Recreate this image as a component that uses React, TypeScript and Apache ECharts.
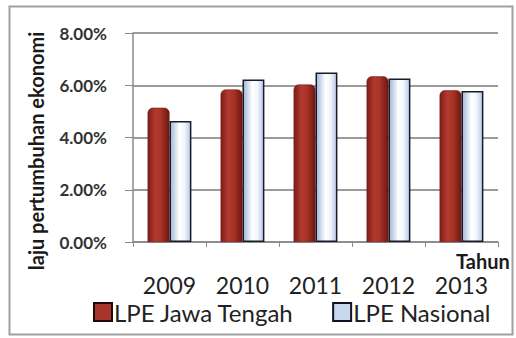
import React, { useEffect, useRef } from "react";
import * as echarts from "echarts";

const categories = ["2009", "2010", "2011", "2012", "2013"];
const jawaTengah = [5.14, 5.84, 6.03, 6.34, 5.81];
const nasional = [4.63, 6.22, 6.49, 6.26, 5.78];
const yTicks = [0, 2, 4, 6, 8];

const FONT = "Lato, 'Open Sans', sans-serif";

export default function App() {
  const ref = useRef<HTMLDivElement>(null);
  useEffect(() => {
    if (!ref.current) return;
    const chart = echarts.init(ref.current, null, { renderer: "svg" });
    const redGrad = new echarts.graphic.LinearGradient(0, 0, 1, 0, [
      { offset: 0, color: "#7e1d16" },
      { offset: 0.35, color: "#b23a2f" },
      { offset: 0.6, color: "#a93328" },
      { offset: 1, color: "#6e1710" },
    ]);
    const blueGrad = new echarts.graphic.LinearGradient(0, 0, 1, 0, [
      { offset: 0, color: "#9fb6d8" },
      { offset: 0.45, color: "#ffffff" },
      { offset: 0.7, color: "#f2f6fc" },
      { offset: 1, color: "#b7c8e2" },
    ]);
    chart.setOption({
      animation: false,
      backgroundColor: "#ffffff",
      textStyle: { fontFamily: FONT },
      grid: { left: 133, right: 18, top: 33, bottom: 96, containLabel: false },
      graphic: [
        {
          type: "rect",
          shape: { x: 9.5, y: 6.5, width: 503, height: 328 },
          style: { fill: "none", stroke: "#a0a0a0", lineWidth: 2 },
          silent: true,
        },
        {
          type: "text",
          x: 36,
          y: 151,
          rotation: Math.PI / 2,
          style: {
            text: "laju pertumbuhan ekonomi",
            fontFamily: FONT,
            fontWeight: "bold",
            fontSize: 20,
            fill: "#1a1a1a",
            textAlign: "center",
            textVerticalAlign: "middle",
          },
        },
        {
          type: "text",
          x: 456,
          y: 251,
          style: {
            text: "Tahun",
            fontFamily: FONT,
            fontWeight: "bold",
            fontSize: 20,
            fill: "#1a1a1a",
          },
        },
      ],
      legend: {
        left: 88,
        top: 295,
        itemWidth: 18,
        itemHeight: 18,
        itemGap: 38,
        icon: "rect",
        textStyle: { fontFamily: FONT, fontSize: 24, color: "#222", padding: [0, 0, 0, -3] },
        data: [
          { name: "LPE Jawa Tengah", itemStyle: { color: "#a8352c", borderColor: "#1a0a08", borderWidth: 2 } },
          { name: "LPE Nasional", itemStyle: { color: "#c9d7ee", borderColor: "#111122", borderWidth: 2 } },
        ],
      },
      xAxis: {
        type: "category",
        data: categories,
        axisLine: { show: true, lineStyle: { color: "#8a8a8a", width: 1.5 } },
        axisTick: { show: true, length: 5, lineStyle: { color: "#8a8a8a" } },
        axisLabel: { fontFamily: FONT, fontSize: 23, color: "#222", margin: 31 },
      },
      yAxis: {
        type: "value",
        min: yTicks[0],
        max: yTicks[yTicks.length - 1],
        interval: 2,
        axisLine: { show: true, lineStyle: { color: "#8a8a8a", width: 1.5 } },
        axisTick: { show: true, length: 8, inside: false, lineStyle: { color: "#8a8a8a" } },
        splitLine: { show: true, lineStyle: { color: "#7a7a7a", width: 1.5 } },
        axisLabel: {
          fontFamily: FONT,
          fontSize: 17,
          fontWeight: "bold",
          color: "#333",
          margin: 26,
          formatter: (v: number) => v.toFixed(2) + "%",
        },
      },
      series: [
        {
          name: "LPE Jawa Tengah",
          type: "bar",
          data: jawaTengah,
          barGap: "0%",
          barCategoryGap: "40%",
          itemStyle: { color: redGrad, borderRadius: [5, 5, 0, 0], borderColor: "#6a1510", borderWidth: 0.5 },
        },
        {
          name: "LPE Nasional",
          type: "bar",
          data: nasional,
          itemStyle: { color: blueGrad, borderColor: "#1a1a2a", borderWidth: 1.5 },
        },
      ],
    });
    return () => chart.dispose();
  }, []);
  return <div ref={ref} style={{ width: 516, height: 338, position: "absolute", left: 0, top: 0 }} />;
}
